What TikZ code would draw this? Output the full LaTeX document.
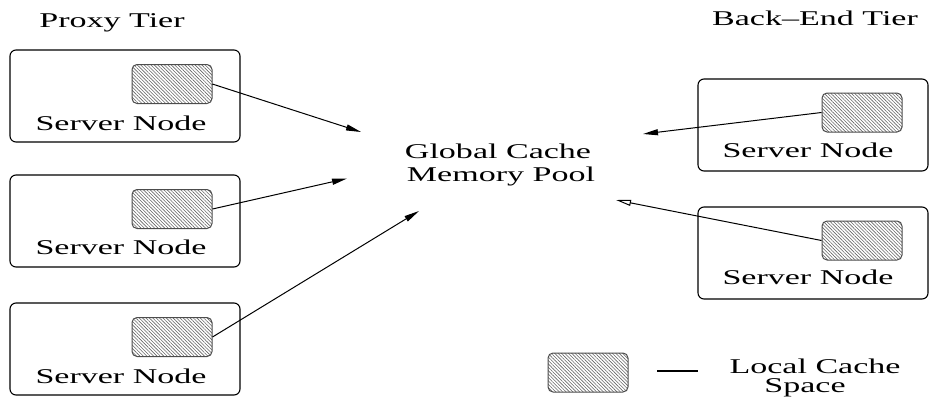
\documentclass[tikz,border=0pt]{standalone}
\usepackage{fontspec}
\newfontfamily\figfont[FakeStretch=1.62]{Liberation Serif}
\usetikzlibrary{arrows.meta, patterns.meta}

\tikzset{
    server/.style={draw, rounded corners=3pt, line width=0.55pt, minimum width=115pt, minimum height=46pt, inner sep=0pt},
    cache/.style={draw=black!70, rounded corners=2.5pt, line width=0.5pt, minimum width=40pt, minimum height=19.5pt, inner sep=0pt,
        pattern={Lines[angle=-45, distance=1.2pt, line width=0.3pt]}, pattern color=black!60},
    txt/.style={font=\fontsize{10.5}{11}\figfont, inner sep=0pt, anchor=base},
    link/.style={-{Triangle[length=7.5pt, width=3pt]}, line width=0.5pt}
}

\begin{document}
\begin{tikzpicture}[x=0.5pt, y=-0.5pt]
    \useasboundingbox (0,0) rectangle (929,396);

    % titles
    \node[txt] (proxy) at (112,27) {Proxy Tier};
    \node[txt] (backend) at (815,25.5) {Back–End Tier};

    % proxy tier
    \node[server] (p1) at (125,96)  {};
    \node[server] (p2) at (125,221) {};
    \node[server] (p3) at (125,349) {};
    \node[cache] (pc1) at (172,84)  {};
    \node[cache] (pc2) at (172,209) {};
    \node[cache] (pc3) at (172,337) {};
    \node[txt] (ps1) at (121,130) {Server Node};
    \node[txt] (ps2) at (121,254) {Server Node};
    \node[txt] (ps3) at (121,383) {Server Node};

    % back-end tier
    \node[server] (b1) at (813,125) {};
    \node[server] (b2) at (813,253) {};
    \node[cache] (bc1) at (862,112.5) {};
    \node[cache] (bc2) at (862,240.5) {};
    \node[txt] (bs1) at (808,157) {Server Node};
    \node[txt] (bs2) at (808,284) {Server Node};

    % global pool
    \node[txt] (pool1) at (498,158.5) {Global Cache};
    \node[txt] (pool2) at (501,181) {Memory Pool};

    \coordinate (a1) at (361,132);
    \coordinate (a2) at (347,178.5);
    \coordinate (a3) at (419,211);
    \coordinate (a4) at (643,134);
    \coordinate (a5) at (616,200);

    \draw [link] (pc1.east) -- (a1);
    \draw [link] (pc2.east) -- (a2);
    \draw [link] (pc3.east) -- (a3);
    \draw [link] (bc1.west) -- (a4);
    \draw [-{Triangle[open, length=7.5pt, width=3pt]}, line width=0.5pt] (bc2.west) -- (a5);

    % legend
    \node[cache] (lc) at (588,372.5) {};
    \coordinate (dl) at (657,371);
    \coordinate (dr) at (698,371);
    \draw [line width=0.6pt] (dl) -- (dr);
    \node[txt] (leg1) at (815,373) {Local Cache};
    \node[txt] (leg2) at (805,392) {Space};
\end{tikzpicture}
\end{document}
